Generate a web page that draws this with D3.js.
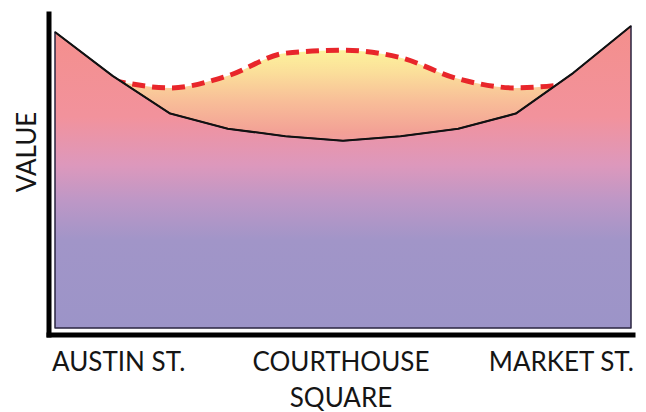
<!DOCTYPE html>
<html>
<head>
<meta charset="utf-8">
<script src="https://cdn.jsdelivr.net/npm/d3@7"></script>
<style>
  html, body { margin: 0; padding: 0; background: #ffffff; }
  svg { display: block; }
  text { font-family: Lato, "Open Sans", sans-serif; fill: #151515; }
</style>
</head>
<body>
<div id="chart"></div>
<script>
// ---- data ----
const positions = [0, 1, 2, 3, 4, 5, 6, 7, 8, 9, 10];
const baseValues = [98, 83.5, 71, 66, 63.5, 62, 63.5, 66, 71, 84.5, 100];
const peakValues = [null, 82, 79.5, 83.5, 91, 92, 89.5, 82.5, 79.5, 81, null];
const xLabels = ["AUSTIN ST.", "COURTHOUSE\nSQUARE", "MARKET ST."];
const xLabelAt = [0, 5, 10];
const yTitle = "VALUE";

// ---- layout ----
const W = 646, H = 412;
const svg = d3.select("#chart").append("svg").attr("width", W).attr("height", H);

const x = d3.scaleLinear().domain([0, 10]).range([55, 631]);
const y = d3.scaleLinear().domain([0, 100]).range([328, 26]);

const defs = svg.append("defs");
const gLow = defs.append("linearGradient").attr("id", "gLow")
  .attr("gradientUnits", "userSpaceOnUse").attr("x1", 0).attr("x2", 0)
  .attr("y1", y(100)).attr("y2", y(0));
[[0, "#f48f8c"], [0.3, "#f2929c"], [0.46, "#dd98bc"], [0.58, "#bd97c6"], [0.71, "#a195c8"], [1, "#9c94c8"]]
  .forEach(([o, c]) => gLow.append("stop").attr("offset", o).attr("stop-color", c));

const gHigh = defs.append("linearGradient").attr("id", "gHigh")
  .attr("gradientUnits", "userSpaceOnUse").attr("x1", 0).attr("x2", 0)
  .attr("y1", y(93)).attr("y2", y(60));
[[0, "#fdf69c"], [0.25, "#fbdf9a"], [0.55, "#f8bd98"], [0.85, "#f3a196"], [1, "#f09aa0"]]
  .forEach(([o, c]) => gHigh.append("stop").attr("offset", o).attr("stop-color", c));

const peakData = positions.map((p, i) => ({ p, v: peakValues[i] })).filter(d => d.v != null);
const baseData = positions.map((p, i) => ({ p, v: baseValues[i] }));

// upper (peak) area, drawn beneath
const areaHigh = d3.area().x(d => x(d.p)).y0(y(0)).y1(d => y(d.v)).curve(d3.curveMonotoneX);
const lineHigh = d3.line().x(d => x(d.p)).y(d => y(d.v)).curve(d3.curveMonotoneX);
svg.append("path").datum(peakData).attr("d", areaHigh).attr("fill", "url(#gHigh)");
svg.append("path").datum(peakData).attr("d", lineHigh)
  .attr("fill", "none").attr("stroke", "#e8262b").attr("stroke-width", 5)
  .attr("stroke-dasharray", "13,7");

// lower (base) area
const areaLow = d3.area().x(d => x(d.p)).y0(y(0)).y1(d => y(d.v)).curve(d3.curveLinear);
const lineLow = d3.line().x(d => x(d.p)).y(d => y(d.v)).curve(d3.curveLinear);
svg.append("path").datum(baseData).attr("d", areaLow)
  .attr("fill", "url(#gLow)").attr("stroke", "#2a2540").attr("stroke-width", 1.5)
  .attr("stroke-linejoin", "round");
svg.append("path").datum(baseData).attr("d", lineLow)
  .attr("fill", "none").attr("stroke", "#111").attr("stroke-width", 2)
  .attr("stroke-linejoin", "round");

// axes (thick black lines, no ticks)
const yAxisScale = d3.scaleLinear().domain([0, 1]).range([337, 11]);
const xAxisScale = d3.scaleLinear().domain([0, 1]).range([46, 635]);
const yAxis = svg.append("g").attr("transform", "translate(48.5,0)")
  .call(d3.axisLeft(yAxisScale).tickValues([]).tickSizeOuter(0));
const xAxis = svg.append("g").attr("transform", "translate(0,334.5)")
  .call(d3.axisBottom(xAxisScale).tickValues([]).tickSizeOuter(0));
[yAxis, xAxis].forEach(g => g.select(".domain").attr("stroke", "#000").attr("stroke-width", 5));

// x labels
const anchors = ["start", "middle", "end"];
const dx = [-3, -2, 3];
xLabels.forEach((lab, i) => {
  const t = svg.append("text")
    .attr("x", x(xLabelAt[i]) + dx[i]).attr("y", 371)
    .attr("text-anchor", anchors[i]).attr("font-size", 26);
  lab.split("\n").forEach((ln, j) => {
    t.append("tspan").attr("x", x(xLabelAt[i]) + dx[i]).attr("dy", j === 0 ? 0 : 36).text(ln);
  });
});

// y title
svg.append("text").attr("transform", "translate(36,152) rotate(-90)")
  .attr("text-anchor", "middle").attr("font-size", 26).text(yTitle);
</script>
</body>
</html>
